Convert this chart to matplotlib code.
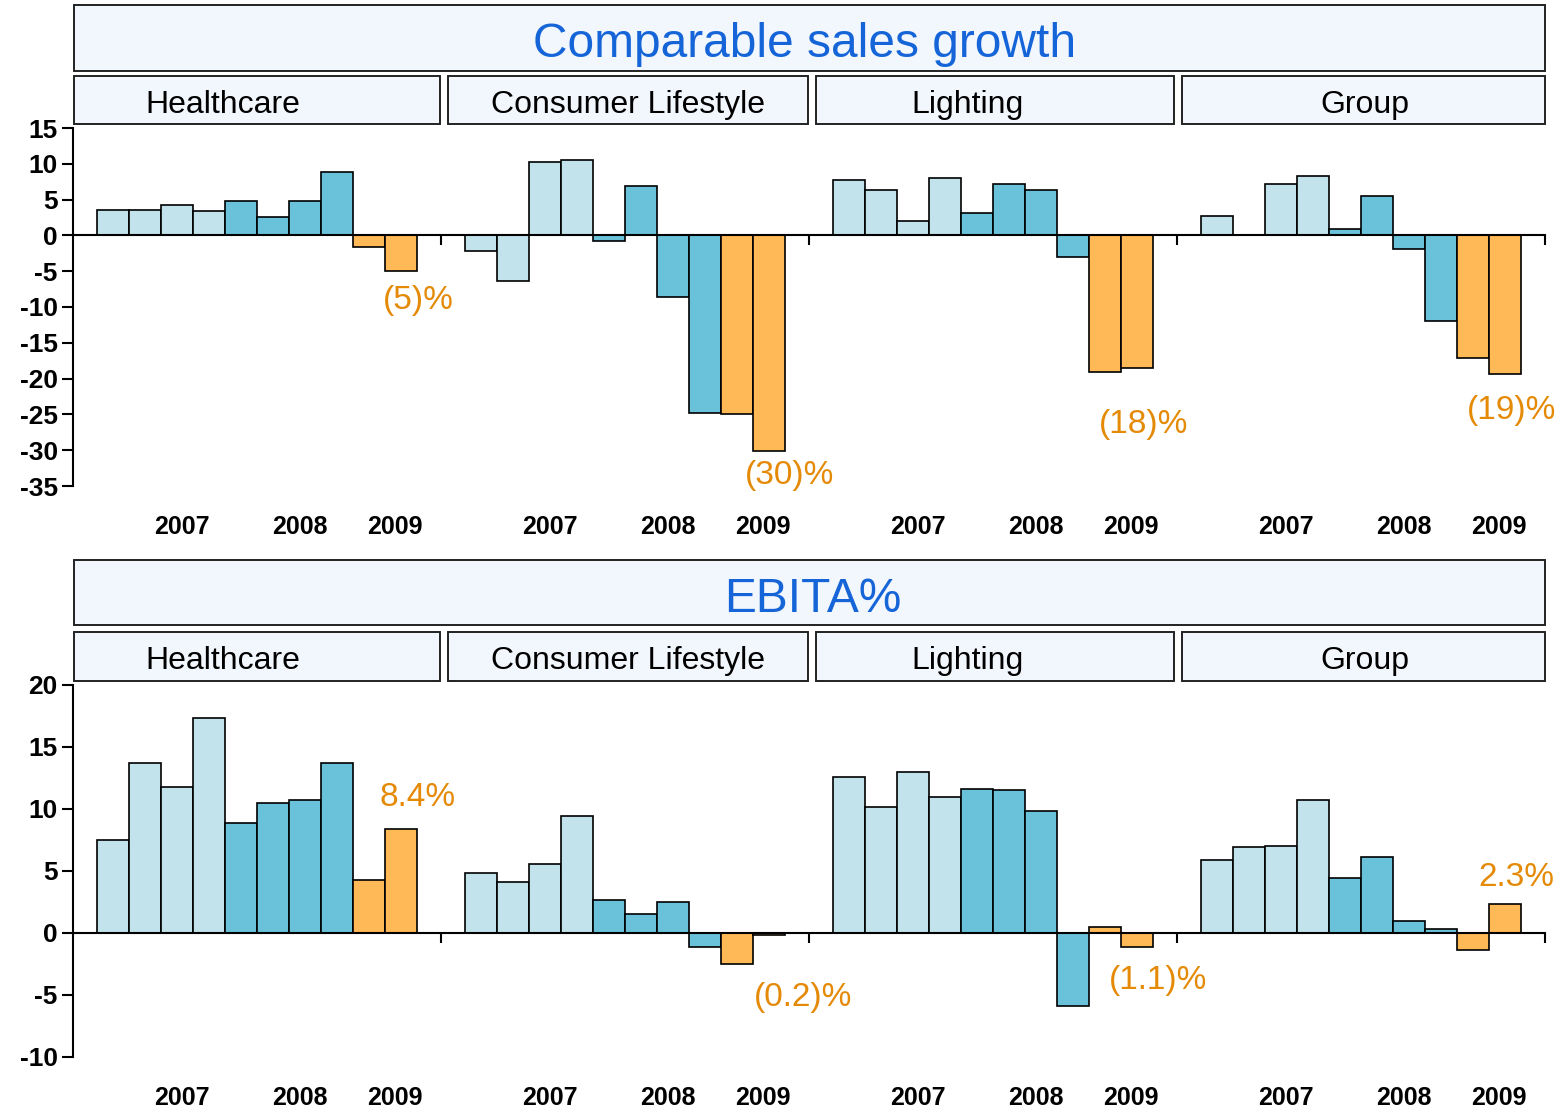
import matplotlib
matplotlib.use("Agg")
import matplotlib.pyplot as plt
import matplotlib.transforms as mtransforms
from matplotlib.patches import Rectangle
from matplotlib import font_manager as fm

# ---------------- data ----------------
segments = ["Healthcare", "Consumer Lifestyle", "Lighting", "Group"]
years = ["2007", "2008", "2009"]
quarters_per_year = [4, 4, 2]

sales_healthcare = [3.6, 3.6, 4.2, 3.4, 4.8, 2.5, 4.8, 8.9, -1.6, -5.0]
sales_consumer = [-2.2, -6.4, 10.3, 10.6, -0.8, 6.9, -8.6, -24.8, -25.0, -30.1]
sales_lighting = [7.7, 6.4, 2.0, 8.0, 3.1, 7.2, 6.4, -3.0, -19.1, -18.5]
sales_group = [2.7, 0.0, 7.2, 8.3, 0.9, 5.5, -1.9, -11.9, -17.1, -19.3]

ebita_healthcare = [7.5, 13.7, 11.8, 17.3, 8.9, 10.5, 10.7, 13.7, 4.3, 8.4]
ebita_consumer = [4.8, 4.1, 5.6, 9.4, 2.7, 1.5, 2.5, -1.1, -2.5, -0.2]
ebita_lighting = [12.6, 10.2, 13.0, 11.0, 11.6, 11.5, 9.8, -5.9, 0.5, -1.1]
ebita_group = [5.9, 6.9, 7.0, 10.7, 4.4, 6.1, 1.0, 0.3, -1.4, 2.3]

sales_labels = ["(5)%", "(30)%", "(18)%", "(19)%"]
ebita_labels = ["8.4%", "(0.2)%", "(1.1)%", "2.3%"]

sales_ticks = [15, 10, 5, 0, -5, -10, -15, -20, -25, -30, -35]
ebita_ticks = [20, 15, 10, 5, 0, -5, -10]

# ---------------- style ----------------
year_colors = ["#C2E3EC", "#69C2DA", "#FFBA57"]
label_color = "#E48A06"
title_color = "#1565D8"
box_face = "#F2F6FD"

available = {f.name for f in fm.fontManager.ttflist}
base_font = "Liberation Sans" if "Liberation Sans" in available else "DejaVu Sans"
plt.rcParams["font.family"] = [base_font]

W, H = 1562, 1114
fig = plt.figure(figsize=(W / 100, H / 100), dpi=100)


def fx(px):
    return px / W


def fy(py):
    return 1 - py / H


def box(x0, y0, x1, y1):
    fig.patches.append(Rectangle((fx(x0), fy(y1)), fx(x1) - fx(x0), fy(y0) - fy(y1),
                                 transform=fig.transFigure, facecolor=box_face,
                                 edgecolor="#222222", linewidth=1.4))


seg_w = 11.5
bar_off = 0.75
year_label_x = [3.41, 7.09, 10.06]
header_x = [(74, 440), (448, 808), (816, 1174), (1182, 1545)]
header_text_x = [223, 628, 968, 1365]


def panel(title, title_x, title_box, title_base, hdr_box, hdr_base, ax_top, ax_bot,
          values, ylim, ticks, labels, label_pos, year_y):
    box(74, title_box[0], 1545, title_box[1])
    fig.text(fx(title_x), fy(title_base), title, color=title_color,
             fontsize=34.5, ha="center", va="baseline")
    for (x0, x1), tx, name in zip(header_x, header_text_x, segments):
        box(x0, hdr_box[0], x1, hdr_box[1])
        fig.text(fx(tx), fy(hdr_base), name, fontsize=23,
                 ha="center", va="baseline", color="black")

    ax = fig.add_axes([fx(73), fy(ax_bot), fx(1545) - fx(73), fy(ax_top) - fy(ax_bot)])
    ax.set_xlim(0, seg_w * 4)
    ax.set_ylim(*ylim)
    yr_tr = mtransforms.blended_transform_factory(ax.transData, fig.transFigure)
    for s, vals in enumerate(values):
        idx = 0
        for yi, n in enumerate(quarters_per_year):
            xs = [s * seg_w + bar_off + idx + k + 0.5 for k in range(n)]
            ax.bar(xs, vals[idx:idx + n], width=1.0, color=year_colors[yi],
                   edgecolor="black", linewidth=1.2, zorder=2)
            idx += n
        for yx, yr in zip(year_label_x, years):
            ax.text(s * seg_w + yx, fy(year_y), yr, transform=yr_tr,
                    fontsize=18, fontweight="bold", ha="center", va="center")
        lx, ly = label_pos[s]
        ax.text(s * seg_w + lx, ly, labels[s], color=label_color, fontsize=24,
                ha="center", va="center")

    for sp in ["top", "right"]:
        ax.spines[sp].set_visible(False)
    ax.spines["bottom"].set_position(("data", 0))
    ax.spines["bottom"].set_linewidth(1.5)
    ax.spines["left"].set_linewidth(1.5)
    ax.spines["bottom"].set_zorder(3)
    ax.set_xticks([seg_w * (i + 1) for i in range(4)])
    ax.set_xticklabels([])
    ax.tick_params(axis="x", direction="out", length=7, width=1.5)
    ax.set_yticks(ticks)
    ax.set_yticklabels([str(t) for t in ticks], fontsize=19, fontweight="bold")
    ax.tick_params(axis="y", direction="out", length=8, width=1.5, pad=3)
    ax.patch.set_alpha(0)
    return ax


panel("Comparable sales growth", 805, (5, 71), 57, (76, 124), 113, 128, 486,
      [sales_healthcare, sales_consumer, sales_lighting, sales_group],
      (-35, 15), sales_ticks, sales_labels,
      [(10.78, -9.1), (10.9, -33.6), (10.47, -26.4), (10.47, -24.4)], 527)

panel("EBITA%", 813, (560, 625), 612, (632, 681), 669, 685, 1057,
      [ebita_healthcare, ebita_consumer, ebita_lighting, ebita_group],
      (-10, 20), ebita_ticks, ebita_labels,
      [(10.78, 10.9), (11.3, -5.2), (10.9, -3.8), (10.6, 4.5)], 1098)

fig.savefig("out.png", dpi=100, facecolor="white")
